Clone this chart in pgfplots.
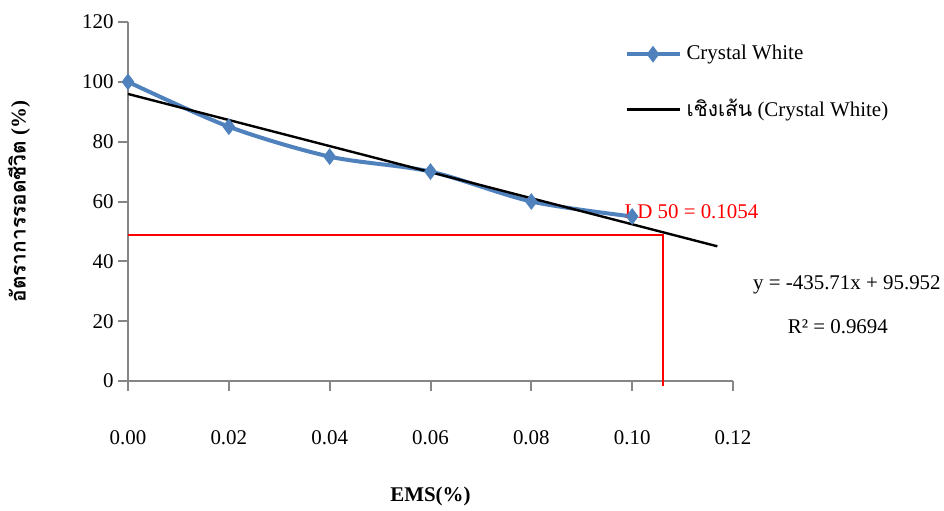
\documentclass[border=0pt]{standalone}
\usepackage{fontspec}
\setmainfont{Liberation Serif}
\newfontfamily\thaifont[Script=Thai]{Loma}
\usepackage{pgfplots}
\pgfplotsset{compat=1.18}
\definecolor{cwblue}{RGB}{79,129,189}
\definecolor{axgray}{RGB}{134,134,134}
\begin{document}
\fontsize{10.5}{12.6}\selectfont
\begin{tikzpicture}
\begin{axis}[name=ax, scale only axis, width=302.5bp, height=179.5bp,
  xmin=0, xmax=0.12, ymin=0, ymax=120, clip=false,
  axis lines=left, axis line style={draw=axgray, line width=1bp, -},
  tick style={draw=axgray, line width=1bp}, major tick length=5bp, tick align=outside,
  xtick={0,0.02,0.04,0.06,0.08,0.1,0.12}, ytick={0,20,40,60,80,100,120},
  /pgf/number format/assume math mode=true,
  xticklabel style={/pgf/number format/.cd, fixed, fixed zerofill, precision=2, /tikz/.cd, anchor=center, yshift=-23.5bp},
  yticklabel style={anchor=east, xshift=1.5bp},
  xlabel={\bfseries EMS(\%)},
  xlabel style={at={(rel axis cs:0.5,-0.323)}, anchor=center},
  ylabel={\bfseries{\thaifont อัตราการรอดชีวิต} (\%)},
  ylabel style={at={(rel axis cs:-0.18,0.5)}, anchor=center},
  legend style={at={(rel axis cs:0.82,0.947)}, anchor=north west, draw=none, fill=none, inner sep=0pt, row sep=14bp, nodes={inner xsep=2.5bp}},
  legend cell align=left,
  legend image code/.code={\draw[mark repeat=2,mark phase=2] plot coordinates {(0bp,0bp) (13.25bp,0bp) (26.5bp,0bp)};},
]
\addplot[red, line width=1bp, forget plot] coordinates {(0,48.7) (0.1061,48.7) (0.1061,-1.7)};
\addplot[cwblue, line width=2bp, smooth, mark=diamond*, mark size=3.8bp, mark options={fill=cwblue, draw=cwblue, line width=0.5bp}]
  coordinates {(0,100) (0.02,85) (0.04,75) (0.06,70) (0.08,60) (0.1,55)};
\addlegendentry{Crystal White}
\addplot[black, line width=1.2bp] coordinates {(0,95.952) (0.1169,45.017)};
\addlegendentry{{\thaifont เชิงเส้น} (Crystal White)}
\node[red, anchor=west, inner sep=0pt] at (axis cs:0.0984,56.5) {LD 50 = 0.1054};
\node[anchor=center, inner sep=0pt] at (axis cs:0.1426,32.1) {y = -435.71x + 95.952};
\node[anchor=center, inner sep=0pt] at (axis cs:0.1408,18.1) {R² = 0.9694};
\end{axis}
\pgfresetboundingbox
\path[use as bounding box] ([xshift=-64bp,yshift=-65bp]ax.south west) rectangle ([xshift=105.5bp,yshift=11bp]ax.north east);
\end{tikzpicture}
\end{document}
